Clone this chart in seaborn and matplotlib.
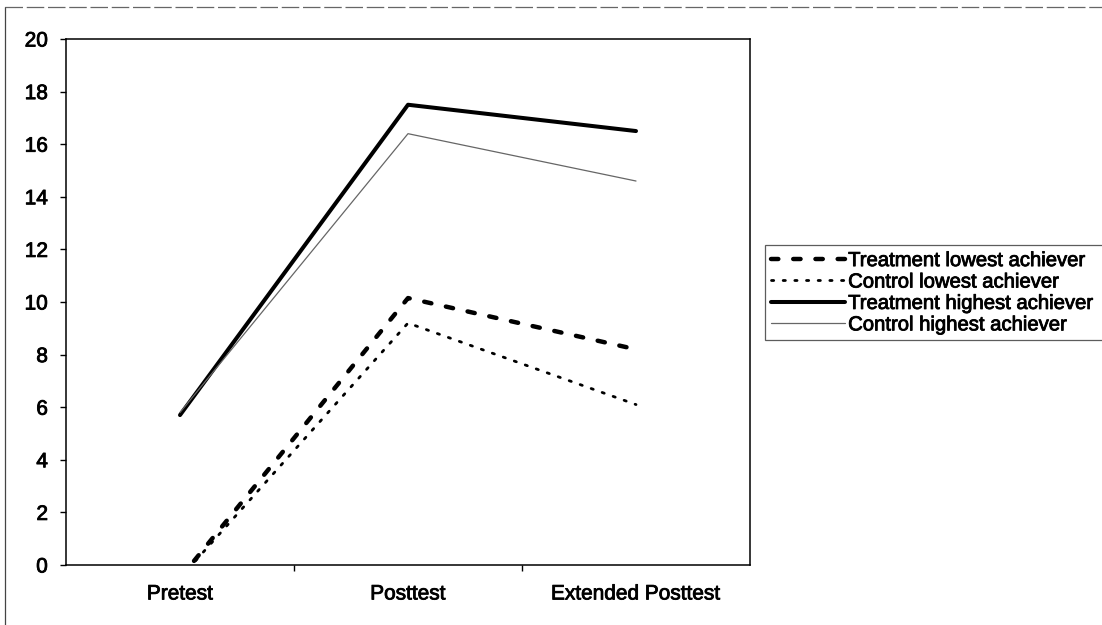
import matplotlib
matplotlib.use("Agg")
import matplotlib.pyplot as plt
from matplotlib.lines import Line2D
import matplotlib.patheffects as pe
import seaborn as sns
import pandas as pd

# ---- data ----
categories = ["Pretest", "Posttest", "Extended Posttest"]
series_names = ["Treatment lowest achiever", "Control lowest achiever",
                "Treatment highest achiever", "Control highest achiever"]
treatment_lowest = [-0.5, 10.15, 8.2]
control_lowest = [-0.5, 9.2, 6.1]
treatment_highest = [5.7, 17.5, 16.5]
control_highest = [5.8, 16.4, 14.6]
y_ticks = [0, 2, 4, 6, 8, 10, 12, 14, 16, 18, 20]

values = [treatment_lowest, control_lowest, treatment_highest, control_highest]
df = pd.DataFrame({
    "test": categories * len(series_names),
    "score": [v for vals in values for v in vals],
    "series": [s for s in series_names for _ in categories],
})

sns.set_theme(style="white")
plt.rcParams["font.family"] = ["Liberation Sans", "DejaVu Sans"]

fig = plt.figure(figsize=(11.02, 6.25), dpi=100)
ax = fig.add_axes([66 / 1102, 1 - 565 / 625, (750 - 66) / 1102, (565 - 39) / 625])

styles = {
    "Treatment lowest achiever": dict(color="black", lw=3.2, linestyle=(0, (1.65, 3.35)),
                                      dash_capstyle="round"),
    "Control lowest achiever": dict(color="black", lw=2.0, linestyle=(0, (0.8, 3.4)),
                                    dash_capstyle="round"),
    "Treatment highest achiever": dict(color="black", lw=2.9, linestyle="-",
                                       solid_capstyle="round"),
    "Control highest achiever": dict(color="#666666", lw=0.9, linestyle="-"),
}

for name in series_names:
    sub = df[df["series"] == name]
    sns.lineplot(data=sub, x="test", y="score", ax=ax, label=name,
                 sort=False, **styles[name])

ax.set_xlim(-0.5, 2.5)
ax.set_ylim(0, 20)
ax.set_yticks(y_ticks)
ax.set_yticklabels([str(t) for t in y_ticks])
ax.set_xticks(range(len(categories)))
ax.set_xticklabels(categories)
ax.set_xticks([0.5, 1.5], minor=True)
ax.set_xlabel("")
ax.set_ylabel("")

for sp in ax.spines.values():
    sp.set_visible(True)
    sp.set_color("black")
    sp.set_linewidth(1.1)

ax.tick_params(axis="y", which="major", direction="out", length=4, width=1,
               color="black", labelsize=15, pad=9, left=True, labelcolor="black")
ax.tick_params(axis="x", which="major", length=0, labelsize=15, pad=14,
               labelcolor="black")
ax.tick_params(axis="x", which="minor", direction="out", length=4, width=1,
               color="black", bottom=True)

leg = ax.legend(loc="upper left",
                bbox_to_anchor=(765 / 1102, 0, 350 / 1102, 1 - 245 / 625),
                bbox_transform=fig.transFigure, mode="expand",
                borderaxespad=0, borderpad=0.3,
                handlelength=3.65, handletextpad=0.15, labelspacing=0.12,
                fontsize=14.6, frameon=True, fancybox=False)
leg.get_frame().set_edgecolor("#333333")
leg.get_frame().set_linewidth(0.9)

heavy = [pe.withStroke(linewidth=0.6, foreground="black")]
for t in leg.get_texts():
    t.set_color("black")
    t.set_path_effects(heavy)
for t in ax.get_xticklabels() + ax.get_yticklabels():
    t.set_path_effects(heavy)

# outer chart-area border (left and top)
fig.add_artist(Line2D([5 / 1102, 5 / 1102], [0, 1 - 7 / 625], transform=fig.transFigure,
                      color="#444444", lw=0.9))
fig.add_artist(Line2D([5 / 1102, 1], [1 - 7 / 625, 1 - 7 / 625], transform=fig.transFigure,
                      color="#666666", lw=0.9, linestyle=(0, (14, 3))))

fig.savefig("out.png", dpi=100)
